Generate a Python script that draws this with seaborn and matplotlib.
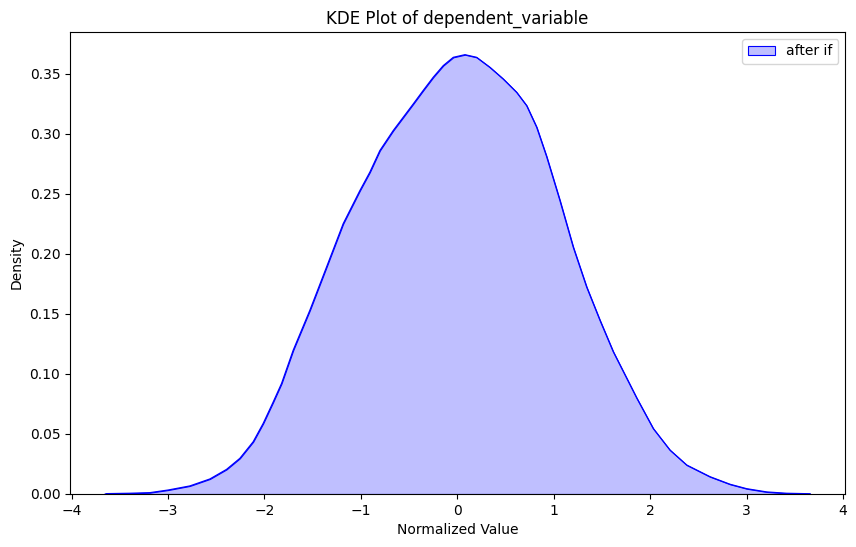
import matplotlib.pyplot as plt
import seaborn as sns

# density curve
values = [-3.65, -3.637, -3.4, -3.188, -2.998, -2.773, -2.565, -2.392, -2.254, -2.116, -2.012,
          -1.909, -1.822, -1.701, -1.528, -1.355, -1.183, -1.009, -0.906, -0.802, -0.664,
          -0.456, -0.353, -0.249, -0.145, -0.041, 0.080, 0.201, 0.339, 0.477, 0.616, 0.72,
          0.824, 0.927, 1.065, 1.203, 1.342, 1.480, 1.618, 1.757, 1.861, 2.033, 2.206, 2.380,
          2.621, 2.829, 3.002, 3.21, 3.417, 3.659]
density = [0.0, 0.0003, 0.0006, 0.0011, 0.0033, 0.0067, 0.0125, 0.0205, 0.0297, 0.0435, 0.0588,
           0.0765, 0.092, 0.1197, 0.153, 0.189, 0.225, 0.2527, 0.268, 0.286, 0.3026,
           0.3248, 0.336, 0.347, 0.3567, 0.3636, 0.3658, 0.3636, 0.3553, 0.3456, 0.3345, 0.3234,
           0.3054, 0.281, 0.2444, 0.2056, 0.1724, 0.1447, 0.1185, 0.0965, 0.0800, 0.0545, 0.0366,
           0.0241, 0.0144, 0.0081, 0.0044, 0.0017, 0.0006, 0.0002]

fig = plt.figure(figsize=(8.56, 5.47), dpi=100)
ax = fig.add_axes([0.0818, 0.0969, 0.9057, 0.8446])

ax.fill_between(values, 0, density, facecolor=(0, 0, 1, 0.25), edgecolor='blue',
                linewidth=0.8, label='after if')
sns.lineplot(x=values, y=density, ax=ax, color='blue', linewidth=0.9, legend=False)

ax.set_ylim(0, 0.3847)
ax.set_title('KDE Plot of dependent_variable')
ax.set_xlabel('Normalized Value')
ax.set_ylabel('Density')
ax.legend(loc='upper right')

fig.savefig('out.png', dpi=100)
